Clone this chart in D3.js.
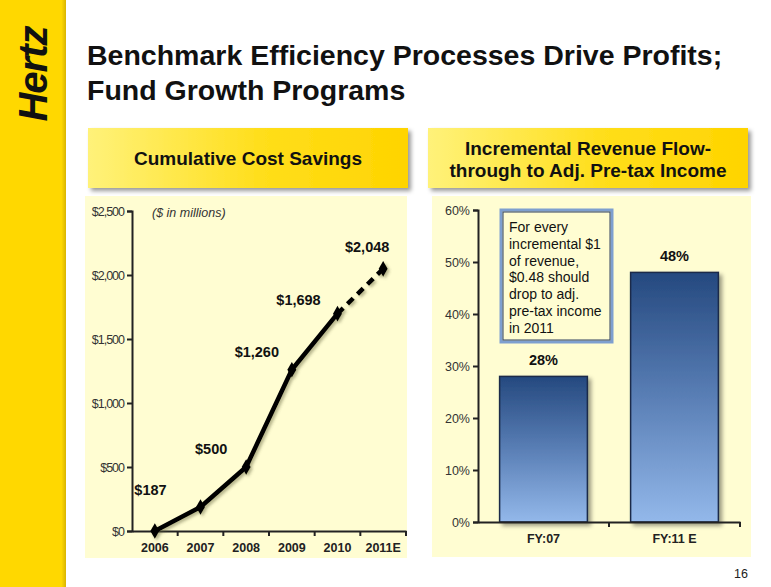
<!DOCTYPE html>
<html><head><meta charset="utf-8">
<script src="https://cdn.jsdelivr.net/npm/d3@7"></script>
<style>
html,body{margin:0;padding:0;background:#fff;}
svg{display:block;font-family:"Liberation Sans",Arial,sans-serif;}
</style></head>
<body><svg id="c" width="771" height="587"></svg>
<script>
// ---- data ----
const years = ["2006","2007","2008","2009","2010","2011E"];
const savings = [0, 187, 500, 1260, 1698, 2048];
const savingsLabels = ["$187","$500","$1,260","$1,698","$2,048"];
const savingsTicks = [0, 500, 1000, 1500, 2000, 2500];
const savingsTickLabels = ["$0","$500","$1,000","$1,500","$2,000","$2,500"];
const periods = ["FY:07","FY:11 E"];
const flowThrough = [28, 48];
const pctTicks = [0, 10, 20, 30, 40, 50, 60];
const noteLines = ["For every","incremental $1","of revenue,","$0.48 should","drop to adj.","pre-tax income","in 2011"];

const FONT = "'Liberation Sans',Arial,sans-serif";
const svg = d3.select("#c");
const defs = svg.append("defs");

// gradients / filters
const hg = defs.append("linearGradient").attr("id","hdr").attr("x1","0").attr("x2","1").attr("y1","0").attr("y2","0");
hg.append("stop").attr("offset","0").attr("stop-color","#FFF27A");
hg.append("stop").attr("offset","0.55").attr("stop-color","#FFDE1A");
hg.append("stop").attr("offset","1").attr("stop-color","#FFD400");
const bg = defs.append("linearGradient").attr("id","bar").attr("x1","0").attr("x2","0").attr("y1","0").attr("y2","1");
bg.append("stop").attr("offset","0").attr("stop-color","#25497F");
bg.append("stop").attr("offset","0.45").attr("stop-color","#5479B0");
bg.append("stop").attr("offset","1").attr("stop-color","#93B8EA");
const sb = defs.append("linearGradient").attr("id","side").attr("x1","0").attr("x2","1");
sb.append("stop").attr("offset","0").attr("stop-color","#FFD800");
sb.append("stop").attr("offset","0.93").attr("stop-color","#FFD800");
sb.append("stop").attr("offset","1").attr("stop-color","#D9B400");
const sh = defs.append("filter").attr("id","shadow").attr("x","-10%").attr("y","-10%").attr("width","130%").attr("height","140%");
sh.append("feDropShadow").attr("dx",3).attr("dy",3).attr("stdDeviation",2).attr("flood-color","#000").attr("flood-opacity",0.4);
const ls = defs.append("filter").attr("id","lshadow").attr("x","-10%").attr("y","-10%").attr("width","130%").attr("height","130%");
ls.append("feDropShadow").attr("dx",2).attr("dy",2).attr("stdDeviation",1.5).attr("flood-color","#5a5a30").attr("flood-opacity",0.45);

// sidebar
svg.append("rect").attr("x",0).attr("y",0).attr("width",66).attr("height",587).attr("fill","url(#side)");
svg.append("text").attr("transform","translate(47,74) rotate(-90)")
  .attr("text-anchor","middle").attr("font-size",40).attr("font-weight","bold").attr("font-style","italic")
  .attr("fill","#111").attr("letter-spacing","-1").text("Hertz");

// title
const title = svg.append("text").attr("x",87).attr("font-size",28.5).attr("font-weight","bold").attr("fill","#111");
title.append("tspan").attr("x",87).attr("y",65).text("Benchmark Efficiency Processes Drive Profits;");
title.append("tspan").attr("x",87).attr("y",100).text("Fund Growth Programs");

// header boxes
function header(x, w, lines){
  svg.append("rect").attr("x",x).attr("y",128).attr("width",w).attr("height",60)
    .attr("fill","url(#hdr)").attr("filter","url(#shadow)");
  const t = svg.append("text").attr("text-anchor","middle").attr("font-size",19).attr("font-weight","bold").attr("fill","#111");
  const y0 = lines.length===1 ? 165 : 155;
  lines.forEach((l,i)=>t.append("tspan").attr("x",x+w/2).attr("y",y0+i*22).text(l));
}
header(88, 320, ["Cumulative Cost Savings"]);
header(428, 320, ["Incremental Revenue Flow-","through to Adj. Pre-tax Income"]);

// panels
svg.append("rect").attr("x",85).attr("y",196).attr("width",322).attr("height",362).attr("fill","#FFFDD2");
svg.append("rect").attr("x",432).attr("y",196).attr("width",319).attr("height",361).attr("fill","#FFFDD2");

// ---- left chart ----
const x = d3.scaleBand().domain(years).range([132,406]);
const y = d3.scaleLinear().domain([0,2500]).range([531,211]);
const gl = svg.append("g");
gl.append("g").attr("transform","translate(132,0)")
  .call(d3.axisLeft(y).tickValues(savingsTicks).tickSize(5).tickFormat((d,i)=>savingsTickLabels[i]))
  .call(g=>{g.select(".domain").attr("stroke","#222").attr("stroke-width",2);
    g.selectAll(".tick line").attr("stroke","#222").attr("stroke-width",2);
    g.selectAll("text").attr("font-size",12.5).attr("fill","#333").attr("letter-spacing","-1").attr("font-family",FONT);});
gl.append("g").attr("transform","translate(0,531)")
  .call(d3.axisBottom(x).tickSize(0).tickPadding(12))
  .call(g=>{g.select(".domain").attr("stroke","#222").attr("stroke-width",2);
    g.selectAll("text").attr("font-size",12.5).attr("font-weight","bold").attr("fill","#222").attr("font-family",FONT);});
// band edge ticks
gl.selectAll(".edge").data(years).join("line")
  .attr("x1",d=>x(d)+x.bandwidth()).attr("x2",d=>x(d)+x.bandwidth())
  .attr("y1",531).attr("y2",536).attr("stroke","#222").attr("stroke-width",2);

gl.append("text").attr("x",152).attr("y",217).attr("font-size",12.5).attr("font-style","italic").attr("fill","#333").text("($ in millions)");

const pts = years.map((d,i)=>({k:d, v:savings[i]}));
const line = d3.line().x(d=>x(d.k)+x.bandwidth()/2).y(d=>y(d.v));
const lg = gl.append("g").attr("filter","url(#lshadow)");
lg.append("path").attr("d",line(pts.slice(0,5))).attr("fill","none").attr("stroke","#000").attr("stroke-width",4.5).attr("stroke-linejoin","round");
lg.append("path").attr("d",line(pts.slice(4))).attr("fill","none").attr("stroke","#000").attr("stroke-width",4.5).attr("stroke-dasharray","8,6");
lg.selectAll(".mk").data(pts).join("path")
  .attr("transform",d=>`translate(${x(d.k)+x.bandwidth()/2},${y(d.v)})`)
  .attr("d",d3.symbol(d3.symbolDiamond,70)).attr("fill","#000");
// data labels (placed up-left of each point as in the slide)
const lblOff = [[-50,-12],[-35,-13],[-35,-13],[-39,-9],[-16,-17]];
gl.selectAll(".dl").data(pts.slice(1)).join("text")
  .attr("x",(d,i)=>x(d.k)+x.bandwidth()/2+lblOff[i][0])
  .attr("y",(d,i)=>y(d.v)+lblOff[i][1])
  .attr("text-anchor","middle").attr("font-size",14.5).attr("font-weight","bold").attr("fill","#111")
  .text((d,i)=>savingsLabels[i]);

// ---- right chart ----
const xb = d3.scaleBand().domain(periods).range([478,740]).paddingInner(0.33).paddingOuter(0.165);
const yb = d3.scaleLinear().domain([0,60]).range([522,210]);
const gr = svg.append("g");
gr.selectAll(".bar").data(periods).join("rect")
  .attr("x",d=>xb(d)).attr("width",xb.bandwidth())
  .attr("y",(d,i)=>yb(flowThrough[i])).attr("height",(d,i)=>yb(0)-yb(flowThrough[i]))
  .attr("fill","url(#bar)").attr("stroke","#1B2B48").attr("stroke-width",1.5).attr("filter","url(#shadow)");
gr.selectAll(".bl").data(periods).join("text")
  .attr("x",d=>xb(d)+xb.bandwidth()/2).attr("y",(d,i)=>yb(flowThrough[i])-11)
  .attr("text-anchor","middle").attr("font-size",14.5).attr("font-weight","bold").attr("fill","#111")
  .text((d,i)=>flowThrough[i]+"%");
gr.append("g").attr("transform","translate(478,0)")
  .call(d3.axisLeft(yb).tickValues(pctTicks).tickSize(5).tickFormat(d=>d+"%"))
  .call(g=>{g.select(".domain").attr("stroke","#222").attr("stroke-width",2);
    g.selectAll(".tick line").attr("stroke","#222").attr("stroke-width",2);
    g.selectAll("text").attr("font-size",12.5).attr("fill","#333").attr("font-family",FONT);});
gr.append("g").attr("transform","translate(0,522)")
  .call(d3.axisBottom(xb).tickSize(0).tickPadding(12))
  .call(g=>{g.select(".domain").attr("stroke","#222").attr("stroke-width",2);
    g.selectAll("text").attr("font-size",12.5).attr("font-weight","bold").attr("fill","#222").attr("font-family",FONT);});
gr.append("line").attr("x1",609).attr("x2",609).attr("y1",522).attr("y2",527).attr("stroke","#222").attr("stroke-width",2);
gr.append("line").attr("x1",740).attr("x2",740).attr("y1",522).attr("y2",527).attr("stroke","#222").attr("stroke-width",2);

// note box
gr.append("rect").attr("x",501).attr("y",210).attr("width",111).attr("height",132)
  .attr("fill","#FFFDD2").attr("stroke","#7E9FCF").attr("stroke-width",3);
gr.append("rect").attr("x",503).attr("y",212).attr("width",107).attr("height",128)
  .attr("fill","none").attr("stroke","#2E3F5E").attr("stroke-width",1);
const nt = gr.append("text").attr("font-size",14).attr("fill","#111");
noteLines.forEach((l,i)=>nt.append("tspan").attr("x",509).attr("y",232+i*16.8).text(l));

// page number
svg.append("text").attr("x",748).attr("y",578).attr("text-anchor","end").attr("font-size",12.5).attr("fill","#222").text("16");
</script></body></html>
